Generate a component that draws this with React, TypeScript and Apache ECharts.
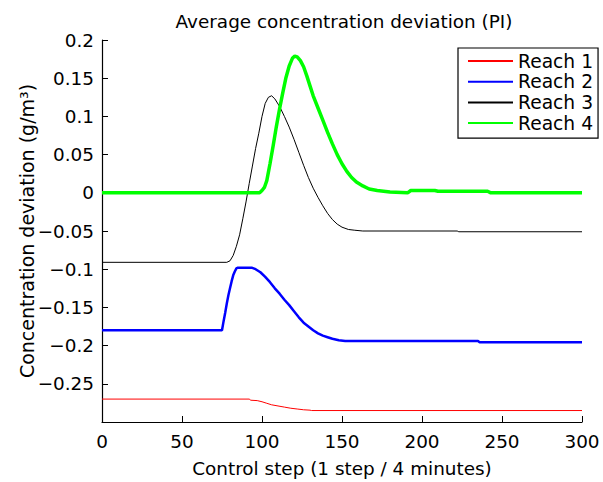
import React, { useEffect, useRef } from "react";
import * as echarts from "echarts";

const TITLE = "Average concentration deviation (PI)";
const X_NAME = "Control step (1 step / 4 minutes)";
const Y_NAME = "Concentration deviation (g/m³)";
const SERIES_NAMES = ["Reach 1", "Reach 2", "Reach 3", "Reach 4"];
const SERIES_COLORS = ["#ff0000", "#0000ff", "#000000", "#00ff00"];
const SERIES_WIDTHS = [1, 2.5, 1, 3.5];

const R1_STEPS = [0, 92, 93, 97, 100, 103, 106, 110, 114, 118, 122, 126, 130, 131, 300];
const R1_VALUES = [-0.27, -0.27, -0.2715, -0.272, -0.2735, -0.2755, -0.2775, -0.279, -0.2805, -0.282, -0.283, -0.284, -0.2845, -0.285, -0.285];

const R2_STEPS = [0, 75, 76, 77, 78, 79, 80, 81, 82, 83, 84, 85, 93.5, 96, 99, 102, 105, 108, 111, 114, 117, 120, 123, 126, 129, 132, 135, 138, 141, 144, 148, 152, 235, 236, 300];
const R2_VALUES = [-0.18, -0.18, -0.168, -0.157, -0.145, -0.134, -0.125, -0.116, -0.108, -0.103, -0.099, -0.098, -0.098, -0.1, -0.104, -0.11, -0.117, -0.125, -0.132, -0.14, -0.147, -0.155, -0.163, -0.17, -0.175, -0.18, -0.184, -0.187, -0.189, -0.191, -0.193, -0.194, -0.194, -0.1955, -0.1955];

const R3_STEPS = [0, 78, 80, 82, 84, 86, 88, 90, 92, 94, 96, 98, 100, 102, 104, 106, 108, 111, 114, 117, 120, 123, 126, 129, 132, 135, 138, 141, 144, 147, 150, 154, 158, 163, 222, 223, 300];
const R3_VALUES = [-0.091, -0.091, -0.089, -0.082, -0.07, -0.055, -0.034, -0.012, 0.012, 0.035, 0.058, 0.078, 0.1, 0.117, 0.125, 0.127, 0.123, 0.113, 0.1, 0.086, 0.07, 0.053, 0.036, 0.02, 0.006, -0.006, -0.017, -0.027, -0.035, -0.041, -0.045, -0.048, -0.049, -0.05, -0.05, -0.051, -0.051];

const R4_STEPS = [0, 98.5, 100, 101.5, 103, 105, 107, 109, 111, 113, 115, 117, 119, 120.5, 122, 124, 126, 128, 130, 132, 135, 138, 141, 144, 147, 150, 153, 156, 159, 163, 167, 172, 180, 191, 193, 208, 210, 241, 243, 300];
const R4_VALUES = [0, 0, 0.003, 0.007, 0.016, 0.038, 0.062, 0.087, 0.11, 0.131, 0.151, 0.166, 0.176, 0.179, 0.178, 0.173, 0.165, 0.153, 0.14, 0.127, 0.111, 0.095, 0.079, 0.064, 0.05, 0.038, 0.028, 0.02, 0.014, 0.009, 0.005, 0.003, 0.001, 0, 0.003, 0.003, 0.002, 0.002, 0, 0];

const ALL_STEPS = [R1_STEPS, R2_STEPS, R3_STEPS, R4_STEPS];
const ALL_VALUES = [R1_VALUES, R2_VALUES, R3_VALUES, R4_VALUES];

const FONT = "'DejaVu Sans', 'Liberation Sans', Arial, sans-serif";

function zip(xs: number[], ys: number[]) {
  return xs.map((x, i) => [x, ys[i]]);
}

export default function App() {
  const ref = useRef<HTMLDivElement>(null);
  useEffect(() => {
    if (!ref.current) return;
    const chart = echarts.init(ref.current, undefined, { renderer: "svg" });
    const option: any = {
      animation: false,
      backgroundColor: "#ffffff",
      textStyle: { fontFamily: FONT, color: "#000" },
      title: {
        text: TITLE,
        left: 344,
        top: 12,
        padding: 0,
        textAlign: "center",
        textStyle: { fontFamily: FONT, fontSize: 18.4, fontWeight: "normal", color: "#000" },
      },
      grid: { left: 102, right: 21, top: 40, bottom: 57, containLabel: false },
      legend: {
        orient: "vertical",
        left: 458,
        top: 48,
        padding: [3, 5, 5, 9],
        itemWidth: 45,
        itemHeight: 14,
        itemGap: 0.7,
        borderColor: "#000",
        borderWidth: 1.2,
        borderRadius: 0,
        backgroundColor: "#fff",
        selectedMode: false,
        itemStyle: { opacity: 0 },
        data: SERIES_NAMES,
        textStyle: { fontFamily: FONT, fontSize: 18.7, color: "#000", lineHeight: 20, padding: [0, 0, 0, 0] },
      },
      xAxis: {
        type: "value",
        min: 0,
        max: 300,
        interval: 50,
        name: X_NAME,
        nameLocation: "middle",
        nameGap: 37,
        nameMoveOverlap: false,
        nameTextStyle: { fontFamily: FONT, fontSize: 18.4, color: "#000" },
        axisLine: { show: true, onZero: false, lineStyle: { color: "#000", width: 1.2 } },
        axisTick: { show: true, inside: true, length: 6, lineStyle: { color: "#000" } },
        axisLabel: { fontFamily: FONT, fontSize: 18.4, color: "#000", margin: 10 },
        splitLine: { show: false },
      },
      yAxis: {
        type: "value",
        min: -0.3,
        max: 0.2,
        interval: 0.05,
        name: Y_NAME,
        nameLocation: "middle",
        nameGap: 66,
        nameMoveOverlap: false,
        nameTextStyle: { fontFamily: FONT, fontSize: 19, color: "#000" },
        axisLine: { show: true, onZero: false, lineStyle: { color: "#000", width: 1.2 } },
        axisTick: { show: true, inside: true, length: 6, lineStyle: { color: "#000" } },
        axisLabel: {
          fontFamily: FONT,
          fontSize: 18.4,
          color: "#000",
          margin: 8,
          formatter: (v: number) => {
            if (Math.abs(v + 0.3) < 1e-9) return "";
            const r = Math.round(v * 100) / 100;
            return String(r).replace("-", "\u2212");
          },
        },
        splitLine: { show: false },
      },
      series: SERIES_NAMES.map((name, i) => ({
        name,
        type: "line",
        symbol: "none",
        showSymbol: false,
        data: zip(ALL_STEPS[i], ALL_VALUES[i]),
        lineStyle: { color: SERIES_COLORS[i], width: SERIES_WIDTHS[i] },
        itemStyle: { color: SERIES_COLORS[i] },
        emphasis: { disabled: true },
      })),
    };
    chart.setOption(option);
    return () => chart.dispose();
  }, []);
  return (
    <div
      ref={ref}
      style={{ position: "fixed", left: 0, top: 0, width: 603, height: 482, background: "#fff" }}
    />
  );
}
